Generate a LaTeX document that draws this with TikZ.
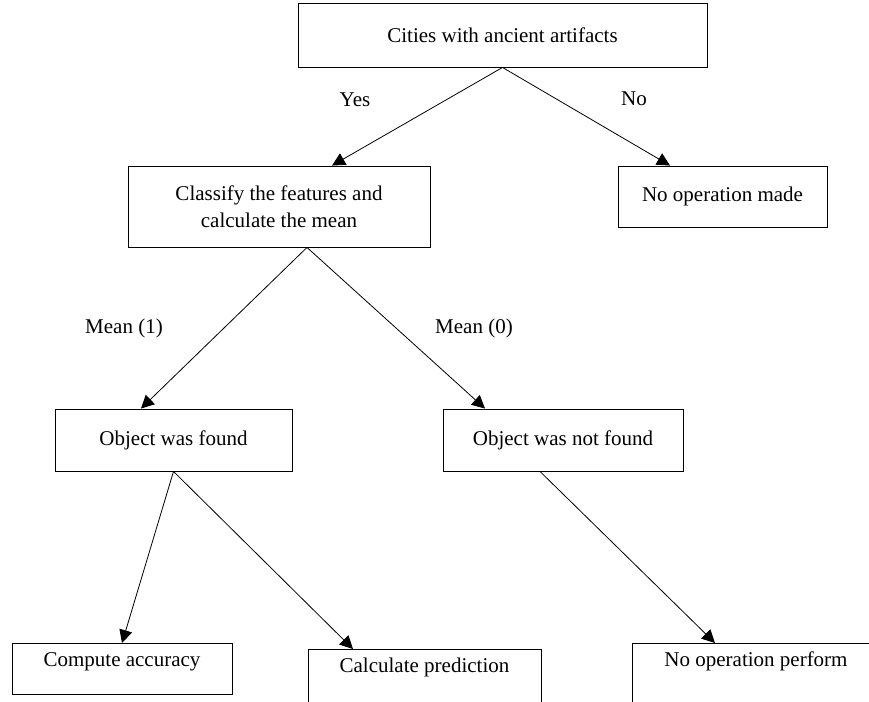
\documentclass[tikz,border=0pt]{standalone}
\usepackage{fontspec}
\setmainfont{Liberation Serif}
\usetikzlibrary{arrows.meta,positioning}

\tikzset{
  box/.style={draw, line width=0.9pt, inner sep=0pt, align=center,
    font=\fontsize{21}{27}\selectfont},
  endbox/.style={box, anchor=north, text height=23pt, text depth=28pt},
  lbl/.style={inner sep=0pt, font=\fontsize{21}{27}\selectfont},
  arr/.style={line width=0.8pt, -{Triangle[length=13pt,width=13pt]}}
}

\begin{document}
\begin{tikzpicture}[x=1pt, y=-1pt]
    \path[use as bounding box, clip] (0,0) rectangle (869,701);

    % boxes
    \node[box, minimum width=409pt, minimum height=64pt] (cities) at (502.5,35) {Cities with ancient artifacts};
    \node[box, minimum width=302pt, minimum height=81pt] (classify) at (279,206.5) {Classify the features and\\calculate the mean};
    \node[box, minimum width=209pt, minimum height=61pt] (nomade) at (722.5,196.5) {No operation made};
    \node[box, minimum width=237pt, minimum height=62pt] (found) at (173.5,440) {Object was found};
    \node[box, minimum width=240pt, minimum height=62pt] (notfound) at (563,440) {Object was not found};

    \node[endbox, minimum width=220pt] (accuracy) at (122,643) {Compute accuracy};
    \node[endbox, minimum width=233pt, text depth=40pt] (prediction) at (424.5,649) {Calculate prediction};
    \node[endbox, minimum width=248pt, text depth=40pt] (noperform) at (756,643) {No operation perform};

    % labels
    \node[lbl] (yes) at (355,100) {Yes};
    \node[lbl] (no) at (634,99) {No};
    \node[lbl] (meanone) at (124,328) {Mean (1)};
    \node[lbl] (meanzero) at (474,328) {Mean (0)};

    % arrows
    \draw[arr] (cities.south) -- ([xshift=53pt]classify.north);
    \draw[arr] (cities.south) -- ([xshift=-52.5pt]nomade.north);
    \draw[arr] ([xshift=28pt]classify.south) -- ([xshift=-32.5pt]found.north);
    \draw[arr] ([xshift=28pt]classify.south) -- ([xshift=-78pt]notfound.north);
    \draw[arr] (found.south) -- (accuracy.north);
    \draw[arr] (found.south) -- ([xshift=-71.5pt]prediction.north);
    \draw[arr] ([xshift=-23pt]notfound.south) -- ([xshift=-41pt]noperform.north);

\end{tikzpicture}
\end{document}
